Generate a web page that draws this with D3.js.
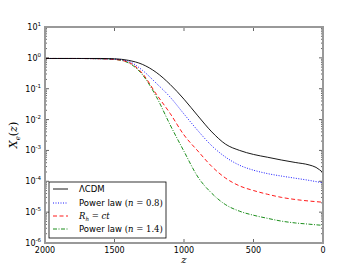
<!DOCTYPE html>
<html><head><meta charset="utf-8">
<script src="https://cdn.jsdelivr.net/npm/d3@7"></script>
<style>body{margin:0;background:#fff}svg{display:block;font-family:"DejaVu Sans",sans-serif}</style>
</head><body><svg id="c" width="360" height="270"></svg>
<script>
const zGrid = [2000,1800,1600,1500,1400,1300,1200,1100,1000,900,800,700,600,500,400,300,200,100,50,0];
const logLCDM = [-0.02,-0.02,-0.02,-0.03,-0.08,-0.21,-0.47,-0.86,-1.34,-1.88,-2.4,-2.8,-3.0,-3.13,-3.22,-3.31,-3.39,-3.47,-3.55,-3.72];
const logPL08 = [-0.02,-0.02,-0.03,-0.04,-0.11,-0.4,-0.82,-1.27,-1.82,-2.36,-2.85,-3.22,-3.48,-3.64,-3.75,-3.83,-3.9,-3.97,-4.01,-4.05];
const logRh   = [-0.02,-0.02,-0.03,-0.05,-0.14,-0.5,-1.17,-1.8,-2.5,-3.02,-3.52,-3.9,-4.15,-4.3,-4.42,-4.52,-4.59,-4.64,-4.66,-4.68];
const logPL14 = [-0.02,-0.02,-0.03,-0.05,-0.16,-0.54,-1.25,-2.17,-3.03,-3.86,-4.39,-4.76,-4.97,-5.1,-5.2,-5.29,-5.35,-5.39,-5.41,-5.43];
const xTicks = [2000,1500,1000,500,0];
const yExps = [1,0,-1,-2,-3,-4,-5,-6];
const seriesNames = ["ΛCDM","Power law","Rh","Power law"];

const svg = d3.select("#c");
const L=45,R=323,T=27,B=243;
const x = d3.scaleLinear().domain([2000,0]).range([L,R]);
const y = d3.scaleLog().domain([1e-6,10]).range([B,T]);

const g = svg.append("g");
const minor=[];
for(let e=-6;e<1;e++) for(let k=2;k<10;k++) minor.push(k*Math.pow(10,e));
minor.forEach(v=>{
  g.append("line").attr("x1",L).attr("x2",L+2).attr("y1",y(v)).attr("y2",y(v)).attr("stroke","#000").attr("stroke-width",0.6);
  g.append("line").attr("x1",R-2).attr("x2",R).attr("y1",y(v)).attr("y2",y(v)).attr("stroke","#000").attr("stroke-width",0.6);
});
yExps.forEach(e=>{
  const v=Math.pow(10,e);
  g.append("line").attr("x1",L).attr("x2",L+4).attr("y1",y(v)).attr("y2",y(v)).attr("stroke","#000").attr("stroke-width",0.6);
  g.append("line").attr("x1",R-4).attr("x2",R).attr("y1",y(v)).attr("y2",y(v)).attr("stroke","#000").attr("stroke-width",0.6);
  const t=g.append("text").attr("x",L-4).attr("y",y(v)+3).attr("text-anchor","end").attr("font-size",8).attr("fill","#000");
  t.append("tspan").text("10");
  t.append("tspan").attr("dy",-4).attr("font-size",5.5).text(e<0?"-"+(-e):String(e));
});
xTicks.forEach(v=>{
  g.append("line").attr("x1",x(v)).attr("x2",x(v)).attr("y1",B).attr("y2",B-4).attr("stroke","#000").attr("stroke-width",0.6);
  g.append("line").attr("x1",x(v)).attr("x2",x(v)).attr("y1",T).attr("y2",T+4).attr("stroke","#000").attr("stroke-width",0.6);
  g.append("text").attr("x",x(v)).attr("y",B+10).attr("text-anchor","middle").attr("font-size",8).attr("fill","#000").text(v);
});

const line = d3.line().x(d=>x(d[0])).y(d=>y(Math.pow(10,d[1]))).curve(d3.curveMonotoneX);
const styles=[
  {data:logLCDM,color:"#000000",dash:null,w:0.9},
  {data:logPL08,color:"#0000ff",dash:"1,1.5",w:0.9},
  {data:logRh,color:"#ff0000",dash:"4,2.5",w:0.9},
  {data:logPL14,color:"#008000",dash:"4,1.5,1,1.5",w:0.9}
];
svg.append("clipPath").attr("id","clp").append("rect").attr("x",L).attr("y",T).attr("width",R-L).attr("height",B-T);
styles.slice().reverse().forEach(s=>{
  svg.append("path").attr("clip-path","url(#clp)").attr("d",line(zGrid.map((z,i)=>[z,s.data[i]])))
    .attr("fill","none").attr("stroke",s.color).attr("stroke-width",s.w).attr("stroke-dasharray",s.dash);
});

svg.append("rect").attr("x",L).attr("y",T).attr("width",R-L).attr("height",B-T).attr("fill","none").attr("stroke","#999").attr("stroke-width",2);

svg.append("text").attr("x",(L+R)/2).attr("y",263).attr("text-anchor","middle").attr("font-size",10).attr("font-style","italic").attr("font-family","DejaVu Serif").text("z");
const yl = svg.append("text").attr("transform","translate(17,"+((T+B)/2)+") rotate(-90)").attr("text-anchor","middle").attr("font-size",11).attr("font-family","DejaVu Serif").attr("font-style","italic");
yl.append("tspan").text("X");
yl.append("tspan").attr("font-size",7).attr("dy",3).text("e");
yl.append("tspan").attr("dy",-3).attr("font-style","normal").text("(");
yl.append("tspan").text("z");
yl.append("tspan").attr("font-style","normal").text(")");

const lg = svg.append("g");
lg.append("rect").attr("x",49).attr("y",182).attr("width",117).attr("height",56).attr("fill","#fff").attr("stroke","#000").attr("stroke-width",0.8);
const rowsY=[189,203,216,229];
styles.forEach((s,i)=>{
  lg.append("line").attr("x1",53).attr("x2",68).attr("y1",rowsY[i]).attr("y2",rowsY[i]).attr("stroke",s.color).attr("stroke-width",s.w).attr("stroke-dasharray",s.dash);
});
const tx=79;
function txt(i){return lg.append("text").attr("x",tx).attr("y",rowsY[i]+3).attr("font-size",8.5).attr("fill","#000");}
txt(0).text(seriesNames[0]);
[1,3].forEach(i=>{
  const t=txt(i); t.append("tspan").text(seriesNames[i]+" ");
  t.append("tspan").attr("font-family","DejaVu Serif").text("(");
  t.append("tspan").attr("font-family","DejaVu Serif").attr("font-style","italic").text("n");
  t.append("tspan").attr("font-family","DejaVu Serif").text(" = "+(i===1?"0.8":"1.4")+")");
});
const t2=txt(2).attr("font-family","DejaVu Serif").attr("font-style","italic");
t2.append("tspan").text("R");
t2.append("tspan").attr("font-size",5.5).attr("dy",2).text("h");
t2.append("tspan").attr("dy",-2).attr("font-style","normal").text(" = ");
t2.append("tspan").text("ct");
</script></body></html>
